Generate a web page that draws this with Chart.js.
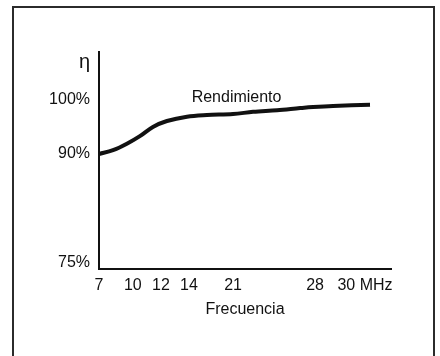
<!DOCTYPE html>
<html>
<head>
<meta charset="utf-8">
<script src="https://cdn.jsdelivr.net/npm/chart.js@4"></script>
<style>
  html, body { margin: 0; padding: 0; background: #fff; }
  body { width: 440px; height: 356px; position: relative; overflow: hidden; }
  #frame {
    position: absolute; left: 12px; top: 6px; width: 419px; height: 360px;
    border: 2px solid #2b2b2b; border-bottom: none;
  }
  #wrap { position: absolute; left: 0; top: 0; width: 440px; height: 356px; }
</style>
</head>
<body>
<div id="frame"></div>
<div id="wrap"><canvas id="chart" width="440" height="356"></canvas></div>
<script>
// curve (MHz, %)
const freq = [7, 8.24, 9.47, 10.5, 11.43, 12.43, 13.86, 16.86, 21, 22.71, 24.76, 26.73, 27.84, 28.72, 30.2];
const eff = [90, 90.7, 91.9, 93.3, 95.0, 96.1, 96.9, 97.2, 97.4, 97.8, 98.1, 98.5, 98.7, 98.9, 99.1];

const xTicks = [7, 10, 12, 14, 21, 28, 30];
const xTickLabels = ["7", "10", "12", "14", "21", "28", "30 MHz"];

const yTicks = [75, 90, 100, 107];
const yTickLabels = ["75%", "90%", "100%", "η"];

const seriesLabel = "Rendimiento";
const labelAt = { x: 21.3, y: 100.4 };

const FONT = "'Liberation Sans', Arial, sans-serif";

// the drawing's axes are not to scale: map values through stop points
function toDecimal(v, stops) {
  for (let i = 1; i < stops.length; i++) {
    const [v0, d0] = stops[i - 1];
    const [v1, d1] = stops[i];
    if (v <= v1 || i === stops.length - 1) {
      return d0 + ((v - v0) / (v1 - v0)) * (d1 - d0);
    }
  }
  return 0;
}
function fromDecimal(d, stops) {
  for (let i = 1; i < stops.length; i++) {
    const [v0, d0] = stops[i - 1];
    const [v1, d1] = stops[i];
    if (d <= d1 || i === stops.length - 1) {
      return v0 + ((d - d0) / (d1 - d0)) * (v1 - v0);
    }
  }
  return 0;
}

class StopScale extends Chart.LinearScale {
  getPixelForValue(value) {
    return this.getPixelForDecimal(toDecimal(value, this.options.stops));
  }
  getValueForPixel(pixel) {
    return fromDecimal(this.getDecimalForPixel(pixel), this.options.stops);
  }
}
StopScale.id = "stops";
StopScale.defaults = {};
Chart.register(StopScale);

const curveLabel = {
  id: "curveLabel",
  afterDatasetsDraw(chart) {
    const { ctx, scales } = chart;
    ctx.save();
    ctx.font = "16px " + FONT;
    ctx.fillStyle = "#111";
    ctx.textAlign = "center";
    ctx.textBaseline = "middle";
    ctx.fillText(seriesLabel, scales.x.getPixelForValue(labelAt.x), scales.y.getPixelForValue(labelAt.y));
    ctx.restore();
  },
};

const ctx = document.getElementById("chart").getContext("2d");
new Chart(ctx, {
  type: "line",
  data: {
    datasets: [
      {
        label: seriesLabel,
        data: freq.map((f, i) => ({ x: f, y: eff[i] })),
        borderColor: "#111",
        borderWidth: 4,
        pointRadius: 0,
        tension: 0.35,
        fill: false,
      },
    ],
  },
  options: {
    responsive: false,
    animation: false,
    layout: { padding: { left: 0, top: 52, right: 49, bottom: 37 } },
    plugins: { legend: { display: false }, tooltip: { enabled: false } },
    scales: {
      x: {
        type: "stops",
        min: 7,
        max: 31.04,
        stops: [[7, 0], [10, 0.116], [12, 0.212], [14, 0.308], [21, 0.459], [28, 0.74], [30, 0.911], [31.04, 1]],
        grid: { display: false, drawTicks: false },
        border: { display: true, color: "#111", width: 2 },
        afterBuildTicks: (scale) => {
          scale.ticks = xTicks.map((v) => ({ value: v }));
        },
        afterFit: (scale) => {
          scale.height = 50;
        },
        ticks: {
          autoSkip: false,
          maxRotation: 0,
          padding: 7,
          color: "#111",
          font: { family: FONT, size: 16 },
          callback: (v) => xTickLabels[xTicks.indexOf(v)],
        },
        title: {
          display: true,
          text: "Frecuencia",
          color: "#111",
          font: { family: FONT, size: 16, lineHeight: 1.2 },
          padding: { top: 0, bottom: 0 },
        },
      },
      y: {
        type: "stops",
        min: 74.16,
        max: 108.9,
        stops: [[74.16, 0], [75, 0.028], [90, 0.53], [100, 0.779], [108.9, 1]],
        grid: { display: false, drawTicks: false },
        border: { display: true, color: "#111", width: 2 },
        afterBuildTicks: (scale) => {
          scale.ticks = yTicks.map((v) => ({ value: v }));
        },
        afterFit: (scale) => {
          scale.width = 99;
        },
        ticks: {
          autoSkip: false,
          padding: 9,
          color: "#111",
          font: (c) => ({ family: FONT, size: c.tick && c.tick.value === 107 ? 20 : 16 }),
          callback: (v) => yTickLabels[yTicks.indexOf(v)],
        },
      },
    },
  },
  plugins: [curveLabel],
});
</script>
</body>
</html>
